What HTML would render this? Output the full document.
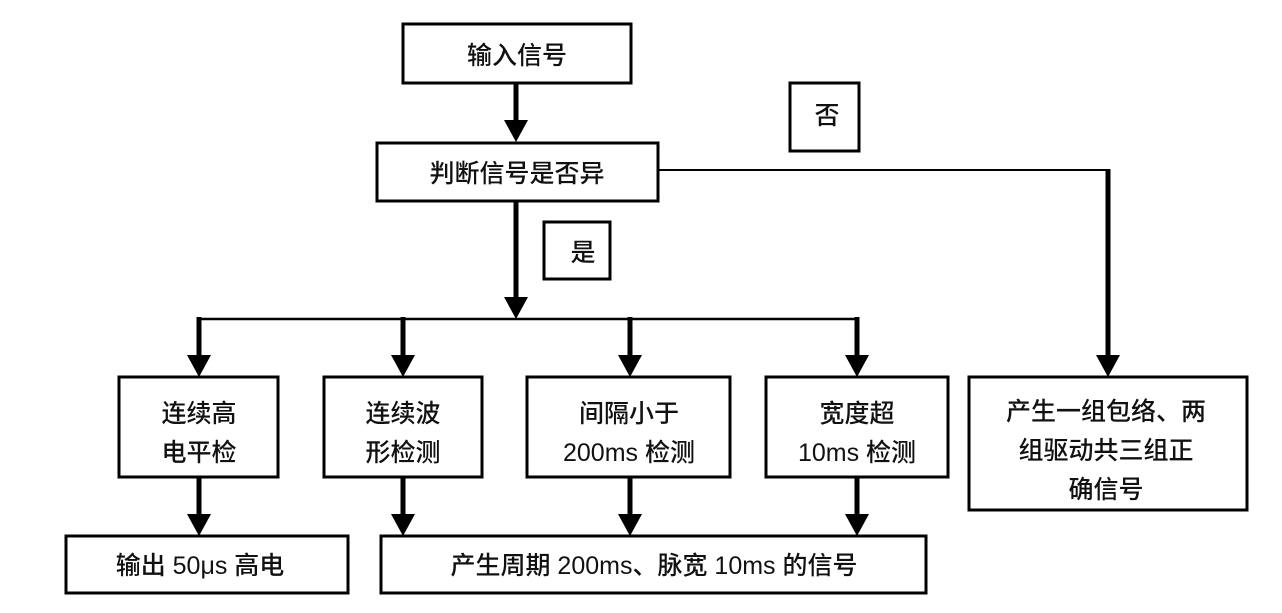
<!DOCTYPE html>
<html><head><meta charset="utf-8"><style>
html,body{margin:0;padding:0;background:#fff;}
svg{display:block}
text{font-family:"Liberation Sans","Noto Sans CJK SC",sans-serif;font-size:25px;font-weight:500;fill:#111;text-anchor:middle;dominant-baseline:central}
</style></head><body>
<svg width="1282" height="613" viewBox="0 0 1282 613" xmlns="http://www.w3.org/2000/svg">
<rect x="0" y="0" width="1282" height="613" fill="#fff"/>
<g fill="none" stroke="#000" stroke-width="3">
<rect x="403" y="24" width="228" height="59"/>
<rect x="377" y="143" width="281" height="58"/>
<rect x="544" y="222" width="66" height="57"/>
<rect x="790" y="83" width="69" height="68"/>
<rect x="119" y="377" width="159" height="100"/>
<rect x="324" y="377" width="158" height="100"/>
<rect x="527" y="377" width="203" height="100"/>
<rect x="766" y="377" width="182" height="100"/>
<rect x="969" y="377" width="278" height="133"/>
<rect x="66" y="536" width="282" height="57"/>
<rect x="381" y="536" width="545" height="57"/>
</g>
<g stroke="#000" fill="none">
<line x1="199" y1="319" x2="858" y2="319" stroke-width="2.5"/>
<line x1="658" y1="170" x2="1108" y2="170" stroke-width="2"/>
<g stroke-width="5">
<line x1="516" y1="83" x2="516" y2="125"/>
<line x1="516" y1="201" x2="516" y2="300"/>
<line x1="199" y1="317" x2="199" y2="358"/>
<line x1="403" y1="317" x2="403" y2="358"/>
<line x1="630" y1="317" x2="630" y2="358"/>
<line x1="857" y1="317" x2="857" y2="358"/>
<line x1="1108" y1="169" x2="1108" y2="358"/>
<line x1="199" y1="477" x2="199" y2="517"/>
<line x1="403" y1="477" x2="403" y2="517"/>
<line x1="630" y1="477" x2="630" y2="517"/>
<line x1="857" y1="477" x2="857" y2="517"/>
</g>
</g>
<g fill="#000">
<polygon points="504,120 528,120 516,142"/>
<polygon points="504,297 528,297 516,319"/>
<polygon points="187,355 211,355 199,377"/>
<polygon points="391,355 415,355 403,377"/>
<polygon points="618,355 642,355 630,377"/>
<polygon points="845,355 869,355 857,377"/>
<polygon points="1096,355 1120,355 1108,377"/>
<polygon points="187,514 211,514 199,536"/>
<polygon points="391,514 415,514 403,536"/>
<polygon points="618,514 642,514 630,536"/>
<polygon points="845,514 869,514 857,536"/>
</g>
<text x="517" y="56">输入信号</text>
<text x="517" y="174">判断信号是否异</text>
<text x="583" y="253">是</text>
<text x="827" y="116">否</text>
<text x="199" y="414">连续高</text>
<text x="199" y="453">电平检</text>
<text x="403" y="414">连续波</text>
<text x="403" y="453">形检测</text>
<text x="629" y="414">间隔小于</text>
<text x="629" y="453">200ms 检测</text>
<text x="857" y="414">宽度超</text>
<text x="857" y="453">10ms 检测</text>
<text x="1106" y="412">产生一组包络、两</text>
<text x="1106" y="451">组驱动共三组正</text>
<text x="1106" y="490">确信号</text>
<text x="200" y="566">输出 50μs 高电</text>
<text x="654" y="566">产生周期 200ms、脉宽 10ms 的信号</text>
</svg>
</body></html>
